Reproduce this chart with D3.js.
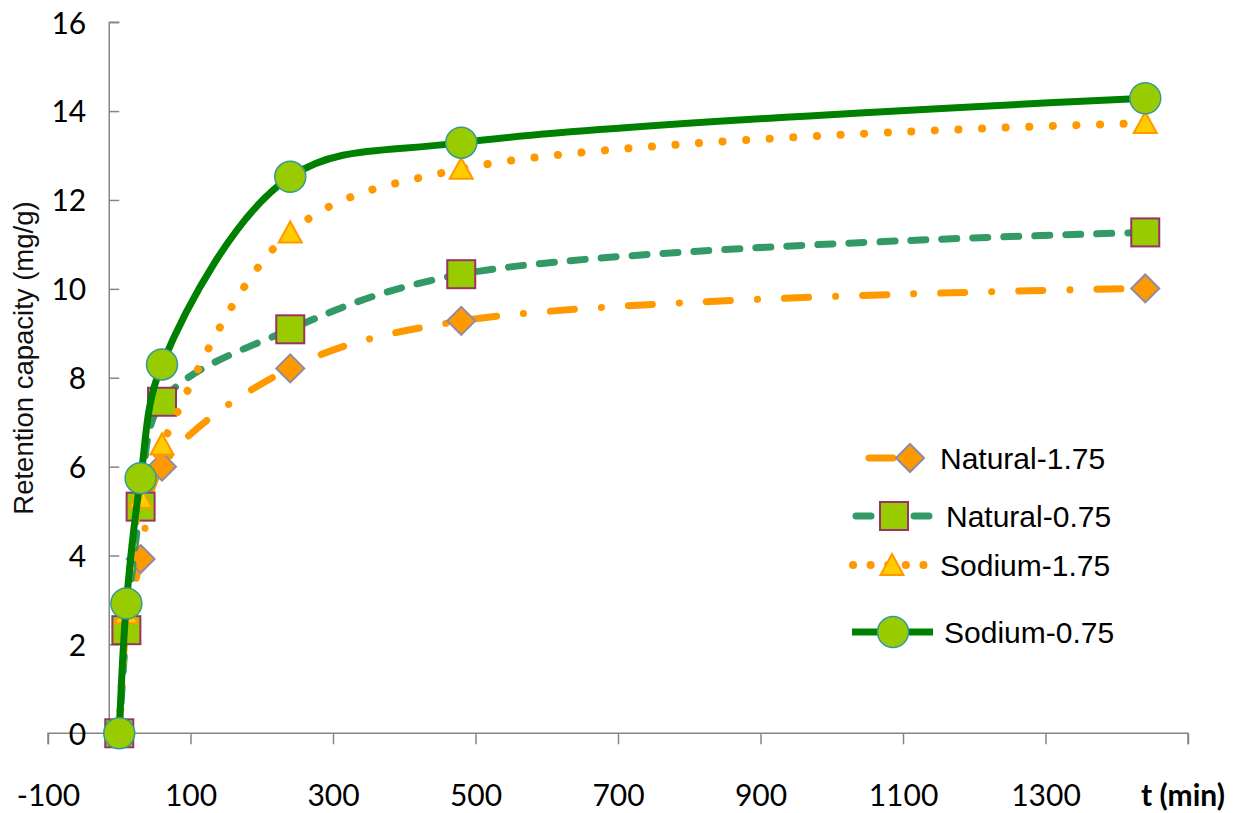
<!DOCTYPE html>
<html><head><meta charset="utf-8">
<script src="https://cdn.jsdelivr.net/npm/d3@7"></script>
<style>body{margin:0;background:#fff}svg{display:block}</style>
</head><body><svg id="c" width="1245" height="813"></svg>
<script>
// ---- data ----
const times = [0, 10, 30, 60, 240, 480, 1440];
const natural175 = [0, 2.4, 3.92, 6.0, 8.21, 9.28, 10.01];
const natural075 = [0, 2.32, 5.1, 7.46, 9.09, 10.33, 11.27];
const sodium175 = [0, 2.7, 5.3, 6.5, 11.27, 12.7, 13.73];
const sodium075 = [0, 2.92, 5.74, 8.3, 12.52, 13.29, 14.29];
const seriesNames = ["Natural-1.75", "Natural-0.75", "Sodium-1.75", "Sodium-0.75"];
const xTicks = [-100, 100, 300, 500, 700, 900, 1100, 1300, 1500];
const yTicks = [0, 2, 4, 6, 8, 10, 12, 14, 16];
const xTitle = "t (min)";
const yTitle = "Retention capacity (mg/g)";

// ---- styles ----
const styles = [
  {color:"#FF9900", width:7, dash:"24 27 0.1 27", marker:"diamond", fill:"#FF9900", stroke:"#8C8CA6"},
  {color:"#339966", width:7, dash:"15 16", marker:"square", fill:"#99CC00", stroke:"#993366"},
  {color:"#FF9900", width:8, dash:"0.1 23.5", marker:"triangle", fill:"#FFCC00", stroke:"#FF9900"},
  {color:"#008000", width:7, dash:null, marker:"circle", fill:"#99CC00", stroke:"#339999"}
];
const values = [natural175, natural075, sodium175, sodium075];
const series = seriesNames.map((name, i) => ({
  name, style: styles[i], points: times.map((t, j) => ({t, v: values[i][j]}))
}));

const svg = d3.select("#c");
const x = d3.scaleLinear().domain([-100, 1500]).range([48, 1188]);
const y = d3.scaleLinear().domain([0, 16]).range([733.3, 22.2]);

const tickFont = "Lato, 'Open Sans', sans-serif";
const axisColor = "#868686";

// x axis
const gx = svg.append("g").attr("transform", `translate(0,${y(0)})`)
  .call(d3.axisBottom(x).tickValues(xTicks).tickSize(11).tickPadding(40)
    .tickFormat(d => d === 1500 ? "" : d));
// y axis
const gy = svg.append("g").attr("transform", `translate(${x(0)},0)`)
  .call(d3.axisLeft(y).tickValues(yTicks).tickSize(10).tickPadding(23));
[gx, gy].forEach(g => {
  g.select(".domain").attr("stroke", axisColor).attr("stroke-width", 1.5);
  g.selectAll(".tick line").attr("stroke", axisColor).attr("stroke-width", 1.5);
  g.selectAll(".tick text").attr("fill", "#000").style("font-family", tickFont).style("font-size", "30px");
});
gx.select(".domain").attr("d", `M${x(-100)},11V0H${x(1500)}V11`);
gy.select(".domain").attr("d", `M0,${y(16)}H-10V${y(0)}`);
gy.selectAll(".tick text").attr("dy", "0.36em");

svg.append("text").attr("x", x(1493)).attr("y", 806).attr("text-anchor", "middle")
  .style("font-family", tickFont).style("font-size", "30px").style("font-weight", "bold")
  .text(xTitle);
svg.append("text").attr("transform", `translate(33,358) rotate(-90)`).attr("text-anchor", "middle")
  .style("font-family", "'Liberation Sans', Arial, sans-serif").style("font-size", "27.5px").attr("fill", "#111")
  .text(yTitle);

// markers
function drawMarker(g, type, cx, cy, st) {
  let el;
  if (type === "circle") el = g.append("circle").attr("cx", cx).attr("cy", cy).attr("r", 15.5);
  else if (type === "square") el = g.append("rect").attr("x", cx - 14).attr("y", cy - 14).attr("width", 28).attr("height", 28);
  else if (type === "diamond") el = g.append("path").attr("d", `M${cx},${cy-14}L${cx+14},${cy}L${cx},${cy+14}L${cx-14},${cy}Z`);
  else el = g.append("path").attr("d", `M${cx},${cy-11}L${cx+11.5},${cy+10}L${cx-11.5},${cy+10}Z`);
  el.attr("fill", st.fill).attr("stroke", st.stroke).attr("stroke-width", type === "circle" ? 1.5 : 2);
}

const line = d3.line().x(d => x(d.t)).y(d => y(d.v)).curve(d3.curveCatmullRom.alpha(0.5));
const plot = svg.append("g");
series.forEach(s => {
  const g = plot.append("g");
  g.append("path").attr("d", line(s.points)).attr("fill", "none")
    .attr("stroke", s.style.color).attr("stroke-width", s.style.width)
    .attr("stroke-linecap", s.style.dash ? "round" : "butt")
    .attr("stroke-linejoin", "round")
    .attr("stroke-dasharray", s.style.dash);
  s.points.forEach(p => drawMarker(g, s.style.marker, x(p.t), y(p.v), s.style));
});

// legend
const legendLayout = [
  {y:458, x1:869, x2:921, mx:910, tx:940, dash:"24 27 0.1 27"},
  {y:516, x1:856, x2:930, mx:894, tx:946, dash:"15 14"},
  {y:565, x1:853, x2:928, mx:892, tx:940, dash:"0.1 17.5"},
  {y:632, x1:852, x2:933, mx:893, tx:944, dash:null}
];
const leg = svg.append("g");
series.forEach((s, i) => {
  const L = legendLayout[i];
  const g = leg.append("g");
  g.append("line").attr("x1", L.x1).attr("x2", L.x2).attr("y1", L.y).attr("y2", L.y)
    .attr("stroke", s.style.color).attr("stroke-width", s.style.width)
    .attr("stroke-linecap", L.dash ? "round" : "butt").attr("stroke-dasharray", L.dash);
  drawMarker(g, s.style.marker, L.mx, L.y, s.style);
  g.append("text").attr("x", L.tx).attr("y", L.y).attr("dy", "0.36em")
    .style("font-family", "'Liberation Sans', Arial, sans-serif").style("font-size", "30px")
    .attr("fill", "#000").text(s.name);
});
</script></body></html>
